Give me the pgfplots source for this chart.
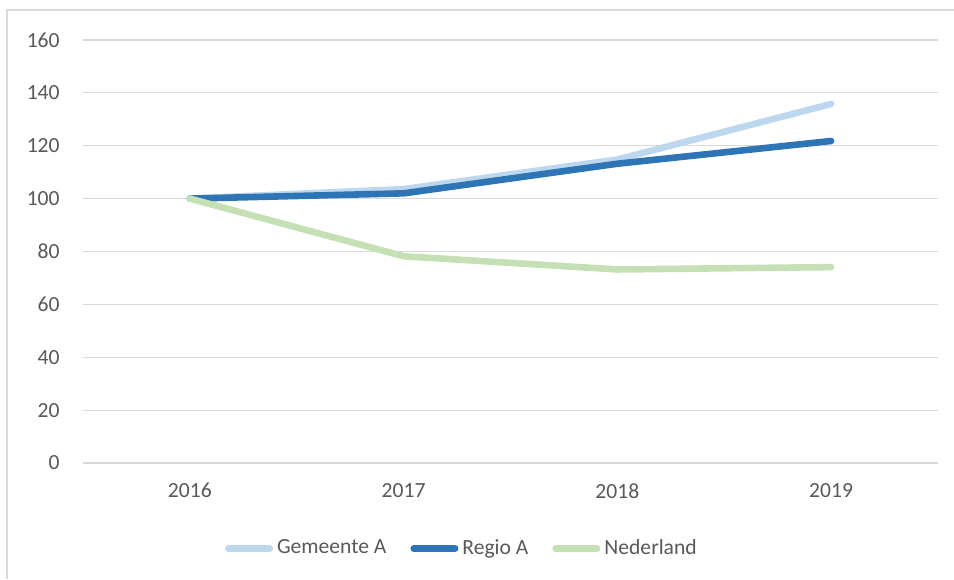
\documentclass[border=0pt]{standalone}
\usepackage{fontspec}
\setmainfont{Carlito}
\usepackage{pgfplots}
\pgfplotsset{compat=1.18}
\definecolor{gemblue}{HTML}{BDD7EE}
\definecolor{regblue}{HTML}{2E75B6}
\definecolor{nlgreen}{HTML}{C5E0B4}
\definecolor{gridgray}{HTML}{D9D9D9}
\definecolor{txtgray}{HTML}{595959}
\begin{document}
\fontsize{10.8}{13}\selectfont
\begin{tikzpicture}
\path[use as bounding box] (0pt,0pt) rectangle (477pt,289.5pt);
\draw[gridgray, line width=0.75pt] (3.5pt,0pt) -- (3.5pt,284.5pt) -- (477pt,284.5pt);
\begin{axis}[
    at={(41.5pt,58pt)}, anchor=south west,
    scale only axis,
    width=427.5pt, height=211.5pt,
    xmin=-0.5, xmax=3.5,
    ymin=0, ymax=160,
    xtick={0,1,2,3},
    xticklabels={2016,2017,2018,2019},
    ytick={0,20,...,160},
    axis line style={draw=none},
    tick style={draw=none},
    ymajorgrids,
    grid style={gridgray, line width=0.6pt},
    /pgf/number format/assume math mode=true,
    ticklabel style={font=\fontsize{10.8}{13}\selectfont, text=txtgray},
    yticklabel style={anchor=east, inner sep=0pt, xshift=-11.5pt},
    xticklabel style={anchor=north, inner sep=0pt, yshift=-10pt},
    legend columns=3,
    legend style={at={(0.442,-0.202)}, anchor=center, draw=none, fill=none,
        font=\fontsize{10.8}{13}\selectfont, text=txtgray,
        nodes={inner sep=0pt},
        /tikz/every odd column/.append style={column sep=2pt},
        /tikz/every even column/.append style={column sep=12pt}},
    legend image code/.code={\draw[#1, line cap=round] (0pt,0pt) -- (20.7pt,0pt);},
    every axis plot/.append style={line width=3.3pt, line cap=round, line join=round},
]
\addplot[gemblue] coordinates {(0,100) (1,103.6) (2,114.8) (3,135.8)};
\addplot[regblue] coordinates {(0,100) (1,102) (2,113.2) (3,121.8)};
\addplot[nlgreen] coordinates {(0,100) (1,78.2) (2,73.2) (3,74.1)};
\legend{Gemeente A, Regio A, Nederland}
\end{axis}
\end{tikzpicture}
\end{document}
